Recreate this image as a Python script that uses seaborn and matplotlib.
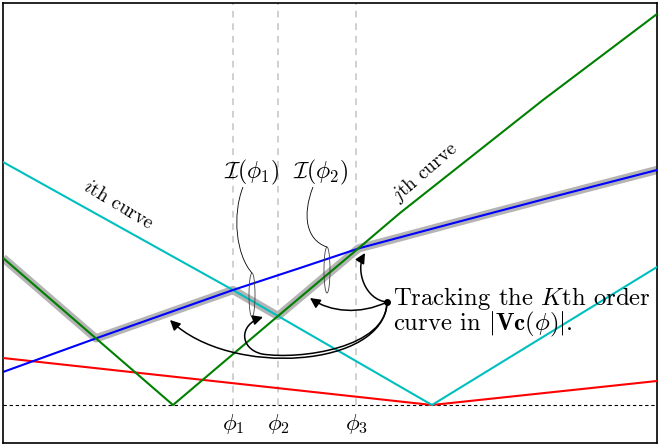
import matplotlib.pyplot as plt
import numpy as np
import seaborn as sns
from matplotlib.patches import Ellipse, FancyArrowPatch, PathPatch
from matplotlib.path import Path

# curve values (x position, magnitude)
GREEN_X = [3, 173, 278, 360, 400, 543, 657]
GREEN_Y = [190, 43, 132, 201, 235, 348, 434]
BLUE_X = [3, 97, 233, 300, 360, 450, 560, 657]
BLUE_Y = [76, 110, 158, 180, 200, 224, 253, 278]
CYAN_X = [3, 233, 278, 432, 657]
CYAN_Y = [286, 158, 132, 43, 181]
RED_X = [3, 432, 657]
RED_Y = [90, 43, 67]
BASELINE = 43
PHI_X = [233, 278, 356]
PHI_LABELS = [r"$\phi_1$", r"$\phi_2$", r"$\phi_3$"]
K = 2

sns.set_theme(style="white")
plt.rcParams["font.family"] = ["serif"]
plt.rcParams["font.serif"] = ["cmr10"]
plt.rcParams["mathtext.fontset"] = "cm"
plt.rcParams["axes.unicode_minus"] = False
plt.rcParams["text.color"] = "black"

fig = plt.figure(figsize=(6.59, 4.48), dpi=100)
ax = fig.add_axes([3 / 659, 5 / 448, 654 / 659, 440 / 448])

# Kth largest curve on a fine grid
grid = np.linspace(3, 657, 1500)
stack = np.vstack([
    np.interp(grid, GREEN_X, GREEN_Y),
    np.interp(grid, BLUE_X, BLUE_Y),
    np.interp(grid, CYAN_X, CYAN_Y),
    np.interp(grid, RED_X, RED_Y),
])
track = np.sort(stack, axis=0)[-K]

ax.vlines(PHI_X, BASELINE, 445, colors="#c8c8c8", linewidth=1.2, linestyles=(0, (4, 3.5)), zorder=1)
ax.axhline(BASELINE, color="black", linewidth=0.8, linestyle=(0, (3, 2.5)), zorder=1)

ax.plot(grid, track, color="#b4b4b4", linewidth=6, solid_capstyle="butt", zorder=2)
for xs, ys, col in [(RED_X, RED_Y, "#ff0000"), (CYAN_X, CYAN_Y, "#00bfbf"),
                    (BLUE_X, BLUE_Y, "#0000ff"), (GREEN_X, GREEN_Y, "#008000")]:
    sns.lineplot(x=xs, y=ys, color=col, linewidth=1.5, estimator=None, ax=ax, zorder=3)

# labels
for x, lab in zip(PHI_X, PHI_LABELS):
    ax.text(x, 24, lab, ha="center", va="center", fontsize=16.5)
ax.text(252, 276, r"$\mathcal{I}(\phi_1)$", ha="center", va="center", fontsize=17)
ax.text(321, 276, r"$\mathcal{I}(\phi_2)$", ha="center", va="center", fontsize=17)
ax.text(118, 243, r"$i$th curve", ha="center", va="center", fontsize=14, rotation=-31)
ax.text(425, 276, r"$j$th curve", ha="center", va="center", fontsize=14, rotation=41)
ax.text(393, 143, r"Tracking the $K$th order", ha="left", va="baseline", fontsize=17.8)
ax.text(393, 118, r"curve in $|\mathbf{Vc}(\phi)|$.", ha="left", va="baseline", fontsize=17.8)

# ellipses and leader lines
for cx, cy, h in [(252, 153, 44), (327, 178, 46)]:
    ax.add_patch(Ellipse((cx, cy), 6, h, fill=False, edgecolor="0.25", linewidth=0.6, zorder=4))
C = Path.CURVE4
for pts in [[(243, 261), (232, 233), (236, 193), (252, 175)],
            [(313, 261), (302, 233), (306, 208), (327, 201)]]:
    ax.add_patch(PathPatch(Path(pts, [Path.MOVETO, C, C, C]), fill=False,
                           edgecolor="black", linewidth=0.6, zorder=4))

# tracking arrows from the dot
ax.plot([387], [146], "o", color="black", markersize=4, zorder=5)
arrows = [
    [(387, 146), (365, 148), (355, 178), (365, 195)],
    [(387, 146), (360, 133), (330, 136), (310, 150)],
    [(387, 146), (385, 80), (230, 70), (170, 128)],
    [(387, 146), (387, 100), (300, 88), (262, 94), (240, 99), (238, 123), (263, 131)],
]
for pts in arrows:
    codes = [Path.MOVETO] + [C] * (len(pts) - 1)
    ax.add_patch(FancyArrowPatch(path=Path(pts, codes), arrowstyle="-|>,head_length=0.6,head_width=0.3",
                                 mutation_scale=10, color="black", linewidth=1.1,
                                 transform=ax.transData, zorder=5))

ax.set_xlim(3, 657)
ax.set_ylim(5, 445)
ax.set_xticks([])
ax.set_yticks([])
for s in ax.spines.values():
    s.set_color("black")
    s.set_linewidth(1.2)

fig.savefig("out.png", dpi=100)
